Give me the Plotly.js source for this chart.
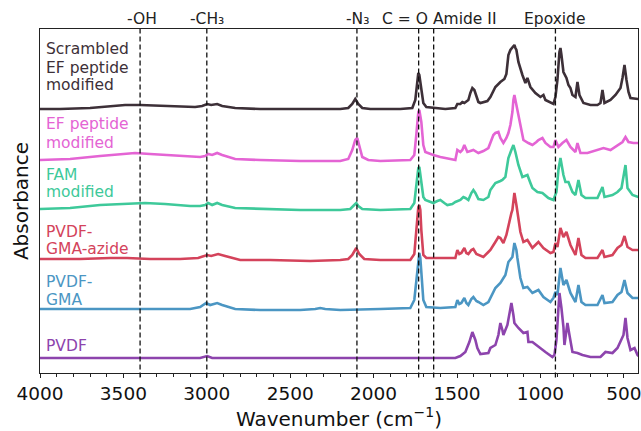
<!DOCTYPE html>
<html><head><meta charset="utf-8">
<script src="https://cdn.plot.ly/plotly-3.0.1.min.js"></script>
<style>html,body{margin:0;padding:0;background:#fff}#chart{width:641px;height:431px}</style>
</head><body><div id="chart"></div><script>
// Wavenumbers (cm^-1) and absorbance (a.u., relative to each spectrum's own baseline)
const wnScrambled = [4000,3880,3700,3580,3490,3400,3280,3160,3070,3028,2998,2974,2938,2908,2830,2680,2440,2200,2152,2128,2110,2092,2068,2020,1840,1768,1750,1738,1732,1726,1714,1702,1684,1642,1570,1510,1498,1480,1468,1456,1444,1432,1420,1408,1396,1384,1372,1360,1342,1318,1300,1282,1270,1240,1216,1204,1192,1180,1168,1156,1150,1144,1132,1120,1108,1090,1078,1060,1030,1000,982,970,940,922,910,898,886,880,874,862,844,832,820,808,790,778,766,742,700,658,640,628,616,580,550,532,520,508,496,484,472,460,430,412];
const absScrambled = [0,0,1,3,4,4,3,2,2,3,5,4,5,3,1,0,0,0,1,5,10,5,1,0,0,1,9,25,36,34,19,6,2,1,0,1,5,5,7,6,8,9,16,21,19,12,7,6,7,8,12,19,22,27,30,35,54,59,62,64,61,59,47,39,34,26,31,22,16,12,14,9,6,5,12,29,57,61,54,37,31,24,21,14,12,27,14,6,4,4,6,19,6,9,14,19,21,31,44,29,17,11,10,10];

const wnEF = [4000,3820,3640,3520,3430,3340,3220,3100,3040,3010,2992,2968,2938,2908,2830,2680,2440,2200,2152,2128,2110,2098,2086,2068,2032,1960,1780,1756,1744,1732,1726,1714,1702,1690,1642,1600,1510,1498,1480,1468,1456,1444,1438,1420,1402,1372,1342,1312,1300,1282,1270,1252,1240,1222,1204,1192,1180,1168,1162,1156,1150,1138,1120,1102,1072,1048,1024,1012,988,970,940,922,910,892,868,844,820,790,778,760,718,658,622,580,538,508,490,472,442,412];
const absEF = [0,1,4,6,7,6,5,4,3,4,6,5,7,5,1,0,-1,-1,1,10,20,22,14,3,0,-1,0,5,25,48,50,38,15,8,5,3,0,10,8,10,15,10,8,9,10,7,9,12,17,25,27,28,22,17,22,27,35,48,60,65,60,50,33,20,17,15,18,20,22,17,13,13,20,13,17,20,13,8,17,7,7,10,12,10,15,18,23,18,17,17];

const wnFAM = [4000,3820,3640,3520,3460,3370,3250,3100,3040,3010,2992,2968,2938,2908,2830,2680,2440,2200,2140,2116,2104,2092,2068,1960,1780,1756,1744,1732,1726,1714,1702,1690,1660,1642,1618,1600,1576,1558,1528,1510,1480,1462,1450,1432,1414,1402,1390,1372,1342,1312,1300,1270,1240,1228,1210,1192,1174,1162,1150,1132,1108,1078,1060,1048,1018,988,952,922,904,892,880,868,862,850,832,808,790,772,754,730,658,628,616,568,538,514,502,490,478,448,412];
const absFAM = [0,1,4,5,6,6,5,3,3,4,6,4,6,4,1,0,-1,-1,0,4,6,3,0,-1,0,6,24,41,42,29,12,9,7,6,8,9,6,4,5,7,9,12,11,9,16,19,16,10,9,12,19,26,28,29,32,51,59,64,57,44,32,34,26,21,17,16,11,9,17,39,51,39,34,27,27,17,14,29,14,11,11,22,12,14,17,21,31,44,21,14,12];

const wnAzide = [4000,3760,3580,3478,3340,3160,3052,3022,2998,2974,2932,2890,2800,2620,2380,2200,2152,2128,2104,2086,2056,1960,1780,1756,1744,1732,1726,1720,1714,1702,1684,1600,1510,1498,1486,1474,1456,1444,1432,1414,1402,1384,1372,1342,1312,1300,1270,1252,1240,1222,1204,1192,1174,1168,1156,1144,1138,1120,1102,1078,1048,1012,982,940,922,910,898,880,862,844,820,790,772,754,730,658,628,616,568,538,514,496,478,448,412];
const absAzide = [0,0,1,1,0,0,1,3,4,3,5,3,-1,-1,-2,-1,0,4,11,5,0,-1,-1,5,29,52,54,49,29,4,1,1,1,9,5,6,11,6,5,9,10,5,4,2,7,9,17,22,21,16,24,34,46,49,66,54,47,27,17,19,11,17,11,6,7,16,12,31,22,27,14,4,21,4,1,1,9,2,4,11,14,23,12,9,9];

const wnGMA = [4000,3760,3520,3280,3100,3040,3016,3004,2980,2938,2908,2830,2680,2440,2350,2320,2290,2200,1960,1780,1756,1744,1732,1726,1720,1714,1702,1684,1600,1510,1498,1486,1474,1456,1444,1432,1414,1402,1384,1372,1342,1312,1300,1270,1240,1210,1192,1168,1156,1144,1138,1120,1102,1078,1048,1012,982,940,922,910,898,880,862,844,820,790,772,754,730,658,628,616,568,538,514,496,478,448,412];
const absGMA = [0,0,0,0,0,2,5,6,4,6,4,0,-1,-1,0,1,0,-1,0,1,9,29,53,56,51,34,9,2,1,2,9,5,6,11,6,4,10,12,8,7,4,7,11,21,26,34,47,52,66,59,51,31,21,22,16,19,12,7,11,17,14,41,24,29,16,7,24,7,4,4,14,6,7,14,17,29,16,11,11];

const wnPVDF = [4000,3640,3160,3040,2998,2968,2680,2200,1960,1720,1510,1480,1450,1426,1408,1390,1378,1360,1312,1300,1270,1252,1240,1228,1222,1198,1186,1174,1162,1156,1132,1102,1078,1072,1048,1012,970,928,916,904,898,886,874,862,856,838,826,808,778,748,700,640,610,568,538,520,502,490,478,460,436,418,412];
const absPVDF = [0,0,0,0,2,0,0,0,0,0,0,2,6,16,26,18,10,4,5,10,13,23,35,28,23,33,45,55,43,35,30,25,26,16,16,11,6,1,3,18,38,65,50,31,13,35,23,6,5,3,1,1,6,5,10,16,23,40,20,8,10,3,2];

// Series order (top to bottom), stacking offsets and names
const seriesLabels = [["Scrambled","EF peptide","modified"],["EF peptide","modified"],["FAM","modified"],["PVDF-","GMA-azide"],["PVDF-","GMA"],["PVDF"]];
const stackOffsets = [264, 213, 164, 114, 64, 15];
const markerLines = [3400, 3000, 2100, 1730, 1640, 910];
const markerNames = ["-OH", "-CH₃", "-N₃", "C = O", "Amide II", "Epoxide"];
const markerLabelPos = [3388, 2998, 2098, 1810, 1456, 910];
const majorTicks = [4000, 3500, 3000, 2500, 2000, 1500, 1000, 500];

const wnAll = [wnScrambled, wnEF, wnFAM, wnAzide, wnGMA, wnPVDF];
const absAll = [absScrambled, absEF, absFAM, absAzide, absGMA, absPVDF];
const colors = ['#3d3038', '#e464d4', '#3ec99a', '#d4435b', '#4b96c3', '#8d44ad'];
const labelCenterPx = [[48.5, 67.5, 85.5], [123.5, 142.5], [174.5, 192.5], [231.5, 248.5], [281.5, 299.5], [345.5]];

const FONT = 'DejaVu Sans, Liberation Sans, sans-serif';
const traces = wnAll.map((wn, i) => ({
  x: wn,
  y: absAll[i].map(v => v + stackOffsets[i]),
  type: 'scatter', mode: 'lines',
  line: {color: colors[i], width: 2.6},
  hoverinfo: 'skip', showlegend: false
}));

const plotTop = 29, plotBottom = 373;
const pyToPaper = py => (plotBottom - py) / (plotBottom - plotTop);

const shapes = markerLines.map(x => ({
  type: 'line', xref: 'x', yref: 'paper', x0: x, x1: x, y0: -0.013, y1: 1,
  line: {color: '#111', width: 1.3, dash: '5px,3px'}, layer: 'above'
}));

const annotations = [];
markerNames.forEach((t, i) => annotations.push({
  text: t, x: markerLabelPos[i], xref: 'x', y: pyToPaper(18.5), yref: 'paper',
  xanchor: 'center', yanchor: 'middle', showarrow: false,
  font: {family: FONT, size: 15.5, color: '#222'}
}));
seriesLabels.forEach((lines, i) => lines.forEach((t, j) => annotations.push({
  text: t, x: 0.006, xref: 'paper', y: pyToPaper(labelCenterPx[i][j]), yref: 'paper',
  xanchor: 'left', yanchor: 'middle', showarrow: false,
  font: {family: FONT, size: 15.5, color: colors[i]}
})));

const layout = {
  width: 641, height: 431,
  margin: {l: 40, r: 3, t: 29, b: 58},
  paper_bgcolor: '#fff', plot_bgcolor: '#fff',
  font: {family: FONT, color: '#111'},
  xaxis: {
    range: [4000, 415], tickvals: majorTicks, ticktext: majorTicks.map(String),
    ticks: 'outside', ticklen: 4, tickwidth: 1, tickcolor: '#222',
    ticklabeloverflow: 'allow',
    minor: {dtick: 100, tick0: 0, ticks: 'outside', ticklen: 3, tickcolor: '#222', showgrid: false},
    showline: true, mirror: true, linecolor: '#222', linewidth: 1.2,
    showgrid: false, zeroline: false,
    tickfont: {family: FONT, size: 18.5, color: '#111'},
    title: {text: 'Wavenumber (cm<sup>−1</sup>)', font: {family: FONT, size: 20, color: '#111'}, standoff: 5}
  },
  yaxis: {
    range: [0, 344], showticklabels: false, ticks: '',
    showline: true, mirror: true, linecolor: '#222', linewidth: 1.2,
    showgrid: false, zeroline: false,
    title: {text: 'Absorbance', font: {family: FONT, size: 20, color: '#111'}, standoff: 4}
  },
  shapes: shapes,
  annotations: annotations
};

Plotly.newPlot('chart', traces, layout, {displayModeBar: false, staticPlot: true});
</script></body></html>
